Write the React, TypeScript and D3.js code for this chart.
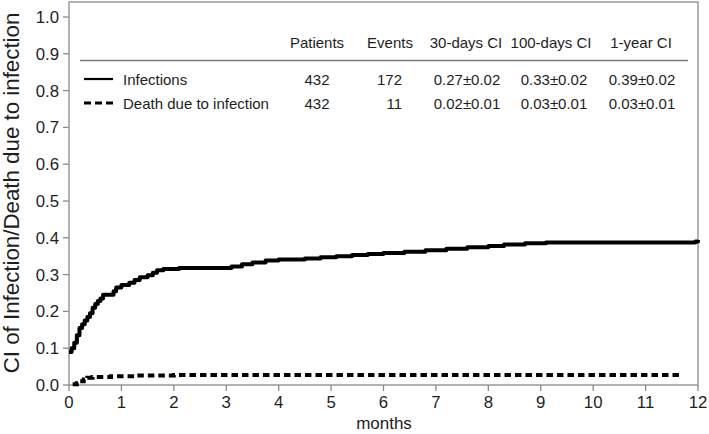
import React from "react";
import * as d3 from "d3";

const W = 709;
const H = 434;

// Step-function cumulative incidence
const infT = [0, 0.05, 0.1, 0.15, 0.2, 0.25, 0.3, 0.35, 0.4, 0.45, 0.5, 0.55, 0.6, 0.65, 0.85, 0.9, 1.0, 1.15, 1.25, 1.35, 1.5, 1.6, 1.68, 1.8, 2.1, 3.1, 3.3, 3.5, 3.75, 4.0, 4.5, 4.8, 5.1, 5.4, 5.7, 6.0, 6.4, 6.8, 7.2, 7.6, 8.0, 8.3, 8.7, 9.1, 11.95, 12];
const infV = [0.09, 0.1, 0.115, 0.135, 0.155, 0.165, 0.175, 0.185, 0.195, 0.21, 0.22, 0.228, 0.235, 0.245, 0.255, 0.265, 0.272, 0.278, 0.285, 0.293, 0.298, 0.305, 0.312, 0.315, 0.318, 0.322, 0.328, 0.333, 0.338, 0.341, 0.344, 0.347, 0.35, 0.353, 0.356, 0.359, 0.362, 0.366, 0.37, 0.374, 0.378, 0.382, 0.385, 0.387, 0.39, 0.394];

const deathT = [0.07, 0.15, 0.2, 0.28, 0.35, 0.45, 0.8, 1.3, 2.0, 11.65];
const deathV = [0.002, 0.005, 0.01, 0.015, 0.02, 0.022, 0.024, 0.026, 0.027, 0.027];

const yTicks = [0, 0.1, 0.2, 0.3, 0.4, 0.5, 0.6, 0.7, 0.8, 0.9, 1.0];
const xTicks = [0, 1, 2, 3, 4, 5, 6, 7, 8, 9, 10, 11, 12];

const tableHeaders = ["Patients", "Events", "30-days CI", "100-days CI", "1-year CI"];
const seriesNames = ["Infections", "Death due to infection"];
const patients = ["432", "432"];
const events = ["172", "11"];
const ci30 = ["0.27±0.02", "0.02±0.01"];
const ci100 = ["0.33±0.02", "0.03±0.01"];
const ci1y = ["0.39±0.02", "0.03±0.01"];

const FONT = "'Liberation Sans', Arial, Helvetica, sans-serif";
const AXIS = "#8a8a8a";
const TXT = "#1e1e1e";

export default function App() {
  const x = d3.scaleLinear().domain([0, 12]).range([69, 698]);
  const y = d3.scaleLinear().domain([0, 1]).range([385, 17]);

  const line = d3
    .line<[number, number]>()
    .x((d) => x(d[0]))
    .y((d) => y(d[1]))
    .curve(d3.curveStepAfter);

  const infData: [number, number][] = infT.map((t, i) => [t, infV[i]]);
  const deathData: [number, number][] = deathT.map((t, i) => [t, deathV[i]]);

  const colHeaderX = [317, 390, 466, 551, 641];
  const colValX = [317, 391, 467, 554, 642];
  const headerY = 48;
  const rowY = [85, 109];

  return (
    <svg
      width={W}
      height={H}
      style={{ position: "absolute", left: 0, top: 0, background: "#fff" }}
      fontFamily={FONT}
    >
      <rect x={0} y={0} width={W} height={H} fill="#fff" />
      {/* frame */}
      <rect x={69} y={2} width={629} height={383} fill="none" stroke={AXIS} strokeWidth={1.3} />

      {/* y ticks */}
      {yTicks.map((t) => (
        <g key={"y" + t}>
          <line x1={63} x2={69} y1={y(t)} y2={y(t)} stroke={AXIS} strokeWidth={1.3} />
          <text x={59} y={y(t) + 6} fontSize={16.8} textAnchor="end" fill={TXT}>
            {t.toFixed(1)}
          </text>
        </g>
      ))}
      {/* x ticks */}
      {xTicks.map((t) => (
        <g key={"x" + t}>
          <line x1={x(t)} x2={x(t)} y1={385} y2={391} stroke={AXIS} strokeWidth={1.3} />
          <text x={x(t)} y={408} fontSize={16.8} textAnchor="middle" fill={TXT}>
            {t}
          </text>
        </g>
      ))}

      <text x={384} y={429} fontSize={17} textAnchor="middle" fill={TXT}>
        months
      </text>
      <text
        transform="translate(19,193) rotate(-90)"
        fontSize={22.3}
        textAnchor="middle"
        fill={TXT}
      >
        CI of Infection/Death due to infection
      </text>

      {/* table */}
      {tableHeaders.map((h, i) => (
        <text key={h} x={colHeaderX[i]} y={headerY} fontSize={15} textAnchor="middle" fill={TXT}>
          {h}
        </text>
      ))}
      <line x1={80} x2={688} y1={60.5} y2={60.5} stroke="#777" strokeWidth={1.5} />

      {seriesNames.map((n, i) => (
        <g key={n}>
          {i === 0 ? (
            <line x1={84} x2={113} y1={rowY[i] - 6} y2={rowY[i] - 6} stroke="#000" strokeWidth={2.2} />
          ) : (
            <line
              x1={84}
              x2={113}
              y1={rowY[i] - 6}
              y2={rowY[i] - 6}
              stroke="#000"
              strokeWidth={3}
              strokeDasharray="7,4"
            />
          )}
          <text x={123} y={rowY[i]} fontSize={15} fill={TXT}>
            {n}
          </text>
          <text x={colValX[0]} y={rowY[i]} fontSize={15} textAnchor="middle" fill={TXT}>
            {patients[i]}
          </text>
          <text x={402} y={rowY[i]} fontSize={15} textAnchor="end" fill={TXT}>
            {events[i]}
          </text>
          <text x={colValX[2]} y={rowY[i]} fontSize={15} textAnchor="middle" fill={TXT}>
            {ci30[i]}
          </text>
          <text x={colValX[3]} y={rowY[i]} fontSize={15} textAnchor="middle" fill={TXT}>
            {ci100[i]}
          </text>
          <text x={colValX[4]} y={rowY[i]} fontSize={15} textAnchor="middle" fill={TXT}>
            {ci1y[i]}
          </text>
        </g>
      ))}

      {/* curves */}
      <path d={line(infData) || ""} fill="none" stroke="#000" strokeWidth={4} strokeLinejoin="round" />
      <path
        d={line(deathData) || ""}
        fill="none"
        stroke="#000"
        strokeWidth={4}
        strokeDasharray="6.5,4"
      />
    </svg>
  );
}
